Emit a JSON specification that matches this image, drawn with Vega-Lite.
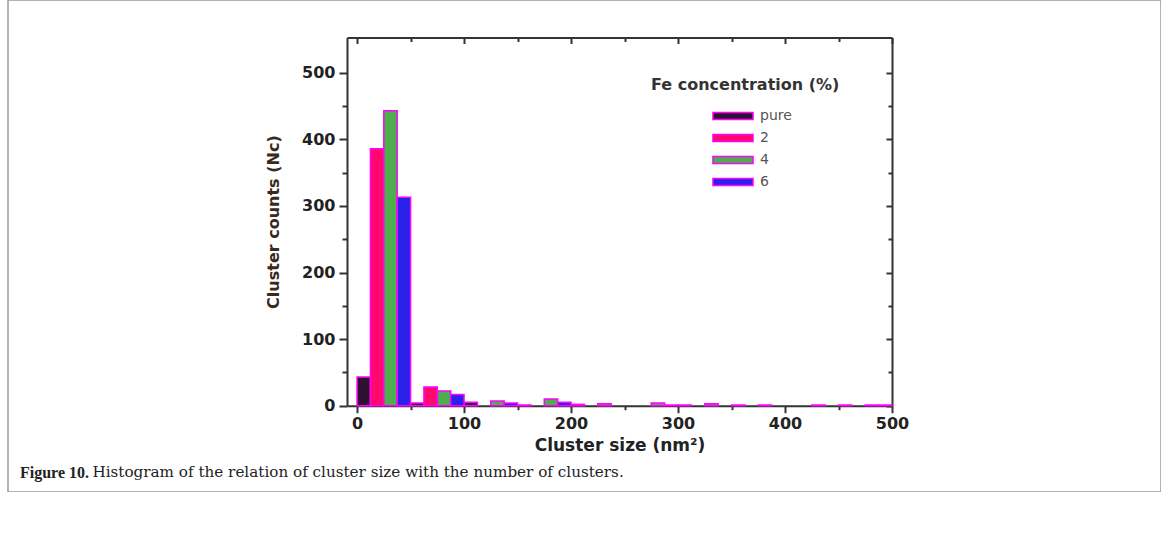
{
  "$schema": "https://vega.github.io/schema/vega-lite/v6.json",
  "autosize": {"type": "none"},
  "padding": {"left": 8, "top": 0, "right": 0, "bottom": 0},
  "width": 1153,
  "height": 492,
  "background": "white",
  "config": {
    "view": {"stroke": "#9a9a9a", "strokeWidth": 1.5},
    "font": "DejaVu Sans"
  },
  "title": {
    "text": "Figure 10.",
    "subtitle": "\u200b\u00a0\u00a0\u00a0\u00a0\u00a0\u00a0\u00a0\u00a0\u00a0\u00a0\u00a0\u00a0\u00a0\u00a0\u00a0Histogram of the relation of cluster size with the number of clusters.",
    "orient": "bottom",
    "anchor": "start",
    "frame": "group",
    "offset": -27,
    "dx": 12,
    "font": "Liberation Serif",
    "fontSize": 16,
    "fontWeight": "bold",
    "color": "#222222",
    "subtitleFont": "DejaVu Serif",
    "subtitleFontSize": 15.2,
    "subtitleFontWeight": "normal",
    "subtitleColor": "#222222",
    "subtitlePadding": -16
  },
  "data": {
    "values": [
      {"fe": "pure", "size_from": 0, "size_to": 12.5, "count": 43},
      {"fe": "pure", "size_from": 50, "size_to": 62.5, "count": 4},
      {"fe": "pure", "size_from": 100, "size_to": 112.5, "count": 5},
      {"fe": "pure", "size_from": 150, "size_to": 162.5, "count": 1},
      {"fe": "pure", "size_from": 200, "size_to": 212.5, "count": 2},
      {"fe": "pure", "size_from": 300, "size_to": 312.5, "count": 1},
      {"fe": "pure", "size_from": 350, "size_to": 362.5, "count": 1},
      {"fe": "pure", "size_from": 450, "size_to": 462.5, "count": 1},
      {"fe": "2", "size_from": 12.5, "size_to": 25, "count": 386},
      {"fe": "2", "size_from": 62.5, "size_to": 75, "count": 28},
      {"fe": "4", "size_from": 25, "size_to": 37.5, "count": 443},
      {"fe": "4", "size_from": 75, "size_to": 87.5, "count": 22},
      {"fe": "4", "size_from": 125, "size_to": 137.5, "count": 7},
      {"fe": "4", "size_from": 175, "size_to": 187.5, "count": 10},
      {"fe": "4", "size_from": 225, "size_to": 237.5, "count": 3},
      {"fe": "4", "size_from": 275, "size_to": 287.5, "count": 4},
      {"fe": "4", "size_from": 325, "size_to": 337.5, "count": 3},
      {"fe": "4", "size_from": 375, "size_to": 387.5, "count": 1},
      {"fe": "4", "size_from": 425, "size_to": 437.5, "count": 1},
      {"fe": "4", "size_from": 475, "size_to": 487.5, "count": 1},
      {"fe": "6", "size_from": 37.5, "size_to": 50, "count": 313},
      {"fe": "6", "size_from": 87.5, "size_to": 100, "count": 17},
      {"fe": "6", "size_from": 137.5, "size_to": 150, "count": 4},
      {"fe": "6", "size_from": 187.5, "size_to": 200, "count": 5},
      {"fe": "6", "size_from": 287.5, "size_to": 300, "count": 1},
      {"fe": "6", "size_from": 487.5, "size_to": 500, "count": 1}
    ]
  },
  "layer": [
    {
      "mark": {"type": "bar", "orient": "vertical", "stroke": "#ff00ff", "strokeWidth": 1.5},
      "encoding": {
        "x": {
          "field": "size_from",
          "type": "quantitative",
          "scale": {"domain": [-9.4, 500], "range": [339, 884], "nice": false, "zero": false, "padding": 0},
          "axis": {
            "orient": "bottom",
            "offset": -86.3,
            "values": [0, 50, 100, 150, 200, 250, 300, 350, 400, 450, 500],
            "labelExpr": "datum.value % 100 === 0 ? datum.label : ''",
            "tickSize": {"condition": {"test": "datum.value % 100 === 0", "value": 7}, "value": 4},
            "tickWidth": 2,
            "tickColor": "#333333",
            "domainColor": "#333333",
            "domainWidth": 2,
            "grid": false,
            "labelFont": "DejaVu Sans",
            "labelFontWeight": "bold",
            "labelFontSize": 16,
            "labelColor": "#222222",
            "labelPadding": 3,
            "labelFlush": false,
            "labelOverlap": false,
            "title": "Cluster size (nm²)",
            "titleFont": "DejaVu Sans",
            "titleFontSize": 17,
            "titleFontWeight": "bold",
            "titleColor": "#222222",
            "titlePadding": 6
          }
        },
        "x2": {"field": "size_to"},
        "y": {
          "field": "count",
          "type": "quantitative",
          "scale": {"domain": [0, 553], "range": [405.7, 37.5], "nice": false, "padding": 0},
          "axis": {
            "orient": "left",
            "offset": -339,
            "values": [0, 50, 100, 150, 200, 250, 300, 350, 400, 450, 500],
            "labelExpr": "datum.value % 100 === 0 ? datum.label : ''",
            "tickSize": {"condition": {"test": "datum.value % 100 === 0", "value": 8}, "value": 5},
            "tickWidth": 2,
            "tickColor": "#333333",
            "domainColor": "#333333",
            "domainWidth": 2,
            "grid": false,
            "labelFont": "DejaVu Sans",
            "labelFontWeight": "bold",
            "labelFontSize": 16,
            "labelColor": "#222222",
            "labelPadding": 4,
            "labelFlush": false,
            "labelOverlap": false,
            "title": "Cluster counts (Nᴄ)",
            "titleFont": "DejaVu Sans",
            "titleFontSize": 16,
            "titleFontWeight": "bold",
            "titleColor": "#3b2a1c",
            "titlePadding": 20
          }
        },
        "y2": {"datum": 0},
        "fill": {
          "field": "fe",
          "type": "nominal",
          "scale": {"domain": ["pure", "2", "4", "6"], "range": ["#2e1030", "#ff0a6c", "#4cae4c", "#2a22ea"]},
          "legend": {
            "orient": "none",
            "legendX": 643,
            "legendY": 77,
            "title": "Fe concentration (%)",
            "titleLimit": 400,
            "titleFont": "DejaVu Sans",
            "titleFontSize": 16,
            "titleFontWeight": "bold",
            "titleColor": "#333333",
            "titlePadding": 15,
            "symbolType": "M-2.86,-0.5H2.86V0.5H-2.86Z",
            "symbolSize": 196,
            "symbolStrokeColor": "#ff00ff",
            "symbolStrokeWidth": 1.5,
            "symbolOpacity": 1,
            "symbolOffset": 74,
            "labelOffset": 19,
            "labelFont": "DejaVu Sans",
            "labelFontSize": 14,
            "labelColor": "#555555",
            "rowPadding": 7,
            "padding": 0
          }
        }
      }
    },
    {
      "mark": {"type": "point", "opacity": 0},
      "encoding": {
        "x": {
          "field": "size_from",
          "type": "quantitative",
          "axis": {
            "orient": "top",
            "offset": -37.5,
            "values": [0, 50, 100, 150, 200, 250, 300, 350, 400, 450, 500],
            "labels": false,
            "tickSize": {"condition": {"test": "datum.value % 100 === 0", "value": -6}, "value": -4},
            "tickWidth": 2,
            "tickColor": "#333333",
            "domainColor": "#333333",
            "domainWidth": 2,
            "grid": false,
            "title": null
          }
        },
        "y": {
          "field": "count",
          "type": "quantitative",
          "axis": {
            "orient": "right",
            "offset": -269,
            "values": [0, 50, 100, 150, 200, 250, 300, 350, 400, 450, 500],
            "labels": false,
            "tickSize": {"condition": {"test": "datum.value % 100 === 0", "value": -6}, "value": -4},
            "tickWidth": 2,
            "tickColor": "#333333",
            "domainColor": "#333333",
            "domainWidth": 2,
            "grid": false,
            "title": null
          }
        }
      }
    }
  ],
  "resolve": {"axis": {"x": "independent", "y": "independent"}}
}
